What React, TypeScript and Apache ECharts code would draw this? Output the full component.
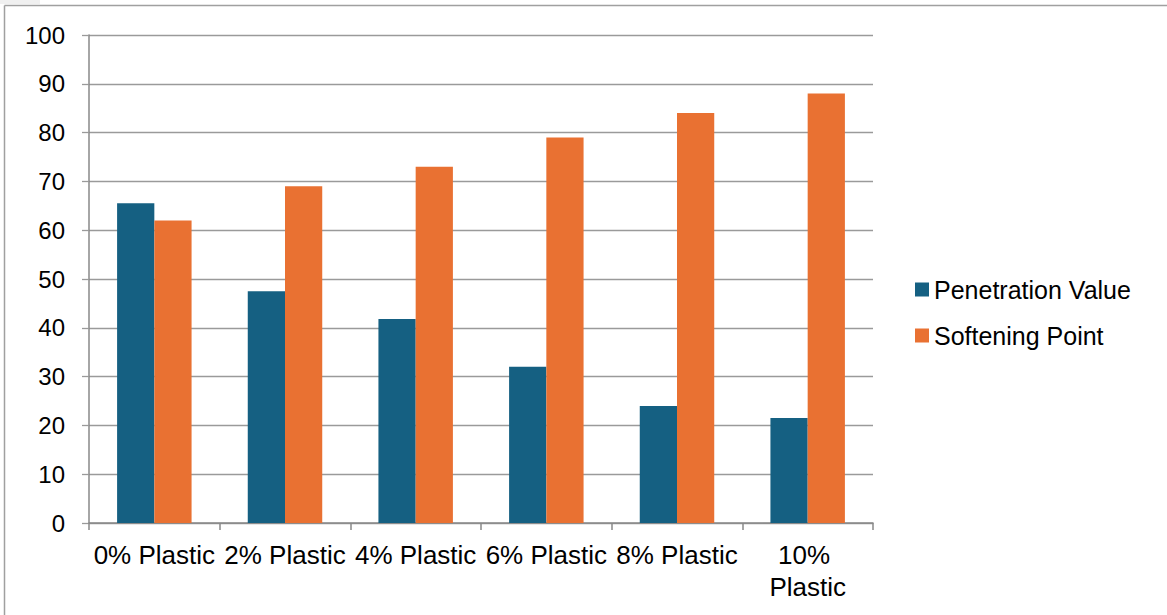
import React, { useEffect, useRef } from "react";
import * as echarts from "echarts";

const categories = ["0% Plastic", "2% Plastic", "4% Plastic", "6% Plastic", "8% Plastic", "10% Plastic"];
const penetrationValue = [65.5, 47.5, 41.8, 32, 24, 21.5];
const softeningPoint = [62, 69, 73, 79, 84, 88];
const seriesNames = ["Penetration Value", "Softening Point"];

const FONT = "'Liberation Sans', Arial, sans-serif";

export default function App() {
  const ref = useRef<HTMLDivElement>(null);
  useEffect(() => {
    if (!ref.current) return;
    const chart = echarts.init(ref.current, null, { renderer: "svg" });
    chart.setOption({
      animation: false,
      backgroundColor: "#ffffff",
      textStyle: { fontFamily: FONT },
      grid: { left: 89, right: 294, top: 35, bottom: 92, containLabel: false },
      legend: {
        orient: "vertical",
        left: 915,
        top: 277,
        padding: 0,
        itemWidth: 14,
        itemHeight: 14,
        itemGap: 21,
        icon: "rect",
        data: seriesNames,
        textStyle: { fontFamily: FONT, fontSize: 25, color: "#000", lineHeight: 24 },
      },
      xAxis: {
        type: "category",
        data: categories,
        axisLine: { lineStyle: { color: "#888888", width: 1.5 } },
        axisTick: { show: true, length: 7, lineStyle: { color: "#888888", width: 1.5 } },
        axisLabel: {
          fontFamily: FONT,
          fontSize: 26,
          color: "#000",
          margin: 16,
          lineHeight: 32,
          interval: 0,
          width: 128,
          overflow: "break",
        },
      },
      yAxis: {
        type: "value",
        min: 0,
        max: 100,
        interval: 10,
        axisLine: { show: true, lineStyle: { color: "#888888", width: 1.5 } },
        axisTick: { show: true, length: 7, lineStyle: { color: "#9a9a9a", width: 1.3 } },
        splitLine: { lineStyle: { color: "#9a9a9a", width: 1.3 } },
        axisLabel: { fontFamily: FONT, fontSize: 24, color: "#000", margin: 24 },
      },
      series: [
        {
          name: seriesNames[0],
          type: "bar",
          data: penetrationValue,
          barGap: "0%",
          barCategoryGap: "43%",
          itemStyle: { color: "#156082" },
        },
        {
          name: seriesNames[1],
          type: "bar",
          data: softeningPoint,
          barGap: "0%",
          barCategoryGap: "43%",
          itemStyle: { color: "#E97132" },
        },
      ],
      graphic: [
        { type: "rect", shape: { x: 0, y: 0, width: 40, height: 4 }, style: { fill: "#f0f0f0" }, silent: true },
        { type: "line", shape: { x1: 4.5, y1: 5.5, x2: 1167, y2: 5.5 }, style: { stroke: "#a0a0a0", lineWidth: 1.5 }, silent: true },
        { type: "line", shape: { x1: 4.5, y1: 5.5, x2: 4.5, y2: 615 }, style: { stroke: "#a0a0a0", lineWidth: 1.5 }, silent: true },
      ],
    });
    return () => chart.dispose();
  }, []);
  return (
    <div
      ref={ref}
      style={{ position: "absolute", left: 0, top: 0, width: 1167, height: 615 }}
    />
  );
}
